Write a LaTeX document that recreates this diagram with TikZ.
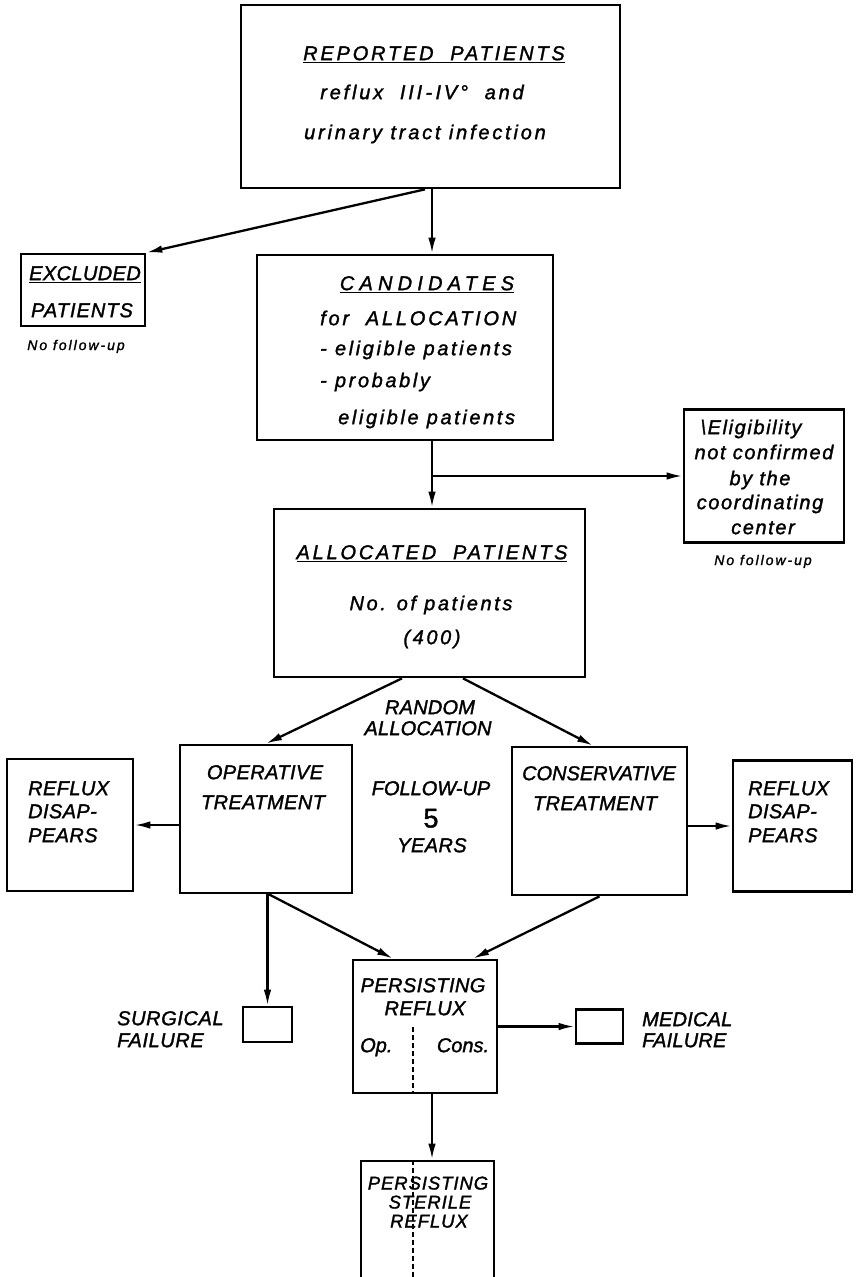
\documentclass[tikz,border=0pt]{standalone}
\usepackage{fontspec}
\setmainfont{Liberation Sans}
\usetikzlibrary{arrows.meta,calc}
\begin{document}
\begin{tikzpicture}[x=1pt,y=-1pt,
  box/.style={draw,line width=2.7pt,inner sep=0},
  conn/.style={line width=2.3pt,-{Latex[length=16pt,width=7.5pt]}},
  txt/.style={inner sep=0,text height=14.3pt,text depth=0pt,font=\fontsize{20}{23}\selectfont\itshape\addfontfeature{LetterSpace=#1,FakeBold=1.5}},
  txt/.default=2,
  small/.style={inner sep=0,text height=13pt,text depth=0pt,font=\fontsize{18.5}{20}\selectfont\itshape\addfontfeature{LetterSpace=5,FakeBold=1.5}},
  note/.style={inner sep=0,text height=10pt,text depth=0pt,font=\fontsize{14}{16}\selectfont\itshape\addfontfeature{LetterSpace=14,FakeBold=1.5}},
  divider/.style={line width=1.8pt,dash pattern=on 5pt off 3pt}]
\useasboundingbox (0,0) rectangle (858,1277);

% named reference coordinates
\coordinate (axis) at (432,0);
\coordinate (ex) at (425,0);
\coordinate (aL) at (402,0);
\coordinate (aR) at (463,0);
\coordinate (cR) at (593,0);
\coordinate (pL) at (393,0);
\coordinate (pR) at (473,0);
\coordinate (div) at (413,0);
\coordinate (br) at (432,476);

% boxes
\node[box,minimum width=379pt,minimum height=183pt] (rep) at (430.5,96.5) {};
\node[box,minimum width=124pt,minimum height=72pt] (exc) at (83,290) {};
\node[box,minimum width=296pt,minimum height=185pt] (cand) at (405,347.5) {};
\node[box,minimum width=160pt,minimum height=133pt] (elig) at (764,476) {};
\node[box,minimum width=311pt,minimum height=168pt] (alloc) at (429.5,593) {};
\node[box,minimum width=172pt,minimum height=148pt] (op) at (266,819) {};
\node[box,minimum width=126pt,minimum height=132pt] (rl) at (70,825) {};
\node[box,minimum width=175pt,minimum height=148pt] (cons) at (599.5,821) {};
\node[box,minimum width=119pt,minimum height=131pt] (rr) at (792.5,826) {};
\node[box,minimum width=144pt,minimum height=133pt] (pers) at (425,1026.5) {};
\node[box,minimum width=49pt,minimum height=35pt] (sf) at (267.5,1024.5) {};
\node[box,minimum width=47pt,minimum height=34pt] (mf) at (599.5,1026.5) {};
\begin{scope}
\clip (0,0) rectangle (858,1277);
\node[box,minimum width=133pt,minimum height=130pt] (psr) at (427.5,1226) {};
\draw[divider] (psr.north -| div) -- (psr.south -| div);
\end{scope}
\draw[divider] (div |- 0,1027) -- (pers.south -| div);

% connectors
\draw[conn] (rep.south -| axis) -- (cand.north -| axis);
\draw[conn] (rep.south -| ex) -- (exc.north east);
\draw[conn] (cand.south -| axis) -- (alloc.north -| axis);
\draw[conn] (br) -- (elig.west);
\draw[conn] (alloc.south -| aL) -- (op.north);
\draw[conn] (alloc.south -| aR) -- (cons.north -| cR);
\draw[conn] (op.west |- rl.east) -- (rl.east);
\draw[conn] (cons.east |- rr.west) -- (rr.west);
\draw[conn] (op.south -| sf.north) -- (sf.north);
\draw[conn] ([xshift=3pt]op.south) -- (pers.north -| pL);
\draw[conn] (cons.south) -- (pers.north -| pR);
\draw[conn] (pers.east) -- (mf.west);
\draw[conn] (pers.south -| axis) -- (psr.north -| axis);

% texts
\node[txt=14] (t1) at (434,53) {\underline{REPORTED\ \ PATIENTS}};
\node[txt=14] (t2) at (422,92) {reflux\ \ III\,-\,IV°\ \ and};
\node[txt=14] (t3) at (425,132) {urinary tract infection};

\node[txt=2] (e1) at (85,273) {\underline{EXCLUDED}};
\node[txt=5] (e2) at (82,310) {PATIENTS};
\node[note] (e3) at (76,345) {No follow-up};

\node[txt=26] (c1) at (427,283) {\underline{CANDIDATES}};
\node[txt=14,anchor=west] (c2) at (320,318) {for\ \ ALLOCATION};
\node[txt=13,anchor=west] (c3) at (320,348) {- eligible patients};
\node[txt=13,anchor=west] (c4) at (320,380) {- probably};
\node[txt=13,anchor=west] (c5) at (338,417) {eligible patients};

\node[txt=8] (g1) at (751,427) {\textbackslash Eligibility};
\node[txt=8] (g2) at (764,452) {not confirmed};
\node[txt=8] (g3) at (760,478) {by the};
\node[txt=8] (g4) at (760,502) {coordinating};
\node[txt=8] (g5) at (763,527) {center};
\node[note] (g6) at (763,560) {No follow-up};

\node[txt=14] (a1) at (432,552) {\underline{ALLOCATED\ \ PATIENTS}};
\node[txt=13] (a2) at (431,603) {No. of patients};
\node[txt=13] (a3) at (432,637) {(400)};

\node[txt=1] (r1) at (430,707) {RANDOM};
\node[txt=1] (r2) at (428,728) {ALLOCATION};

\node[txt=2] (o1) at (265,772) {OPERATIVE};
\node[txt=2] (o2) at (263,802) {TREATMENT};
\node[txt=0] (k1) at (599,773) {CONSERVATIVE};
\node[txt=2] (k2) at (595,803) {TREATMENT};

\node[txt=2,anchor=west] (l1) at (28,788) {REFLUX};
\node[txt=2,anchor=west] (l2) at (28,811) {DISAP-};
\node[txt=2,anchor=west] (l3) at (28,835) {PEARS};
\node[txt=2,anchor=west] (q1) at (748,788) {REFLUX};
\node[txt=2,anchor=west] (q2) at (748,811) {DISAP-};
\node[txt=2,anchor=west] (q3) at (748,835) {PEARS};

\node[txt=0] (f1) at (431,788) {FOLLOW-UP};
\node[inner sep=0,text height=19pt,text depth=0pt,font=\fontsize{27}{29}\selectfont\addfontfeature{FakeBold=1.5}] (f2) at (431,818) {5};
\node[txt=2] (f3) at (432,845) {YEARS};

\node[txt=2] (p1) at (423,985) {PERSISTING};
\node[txt=2] (p2) at (425,1008) {REFLUX};
\node[txt=0,anchor=west] (p3) at (360,1045) {Op.};
\node[txt=0] (p4) at (463,1045) {Cons.};

\node[small] (p5) at (428,1183) {PERSISTING};
\node[small] (p6) at (430,1202) {STERILE};
\node[small] (p7) at (429,1221) {REFLUX};

\node[txt=3,anchor=west] (s1) at (117,1018) {SURGICAL};
\node[txt=3,anchor=west] (s2) at (117,1040) {FAILURE};
\node[txt=1,anchor=west] (m1) at (642,1019) {MEDICAL};
\node[txt=1,anchor=west] (m2) at (642,1040) {FAILURE};
\end{tikzpicture}
\end{document}
